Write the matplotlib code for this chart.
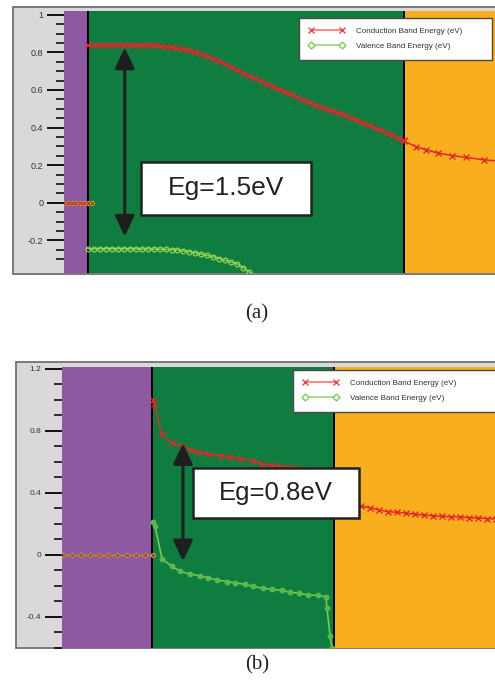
import matplotlib
matplotlib.use("Agg")
import matplotlib.pyplot as plt
import numpy as np
from matplotlib.lines import Line2D
from matplotlib.patches import Rectangle

plt.rcParams["axes.unicode_minus"] = False
plt.rcParams["font.family"] = ["Liberation Sans", "DejaVu Sans"]

# ---------------- panel (a): Eg = 1.5 eV ----------------
layers_a = [0, 24, 342, 440]          # purple | green | orange (position, a.u.)
yticks_a = [-0.2, 0, 0.2, 0.4, 0.6, 0.8, 1]

metal_x_a = [0, 4, 8, 12, 16, 20, 24, 28]
metal_e_a = [0, 0, 0, 0, 0, 0, 0, 0]

cb_x_a = np.arange(24, 343, 6)
cb_e_a = [0.840, 0.840, 0.840, 0.840, 0.840, 0.840, 0.839, 0.839, 0.839, 0.838,
          0.838, 0.837, 0.834, 0.830, 0.826, 0.822, 0.818, 0.810, 0.800, 0.790,
          0.779, 0.767, 0.754, 0.738, 0.722, 0.706, 0.690, 0.676, 0.662, 0.648,
          0.633, 0.618, 0.604, 0.590, 0.576, 0.562, 0.548, 0.534, 0.521, 0.510,
          0.498, 0.487, 0.476, 0.464, 0.451, 0.438, 0.425, 0.412, 0.400, 0.387,
          0.373, 0.360, 0.346, 0.332]
cb2_x_a = [342, 354, 364, 376, 390, 404, 422, 436]
cb2_e_a = [0.326, 0.298, 0.281, 0.264, 0.251, 0.241, 0.228, 0.222]

vb_x_a = np.arange(24, 211, 6)
vb_e_a = [-0.245, -0.245, -0.245, -0.245, -0.245, -0.245, -0.245, -0.245,
          -0.246, -0.246, -0.246, -0.247, -0.247, -0.248, -0.250, -0.252,
          -0.256, -0.261, -0.267, -0.273, -0.280, -0.288, -0.297, -0.306,
          -0.316, -0.325, -0.345, -0.368, -0.390, -0.415, -0.440, -0.465]

# ---------------- panel (b): Eg = 0.8 eV ----------------
layers_b = [0, 90, 272, 440]
yticks_b = [-0.4, 0, 0.4, 0.8, 1.2]

metal_x_b = [1, 10, 19, 28, 37, 46, 55, 65, 74, 83, 91]
metal_e_b = [0, 0, 0, 0, 0, 0, 0, 0, 0, 0, 0]

cb_x_b = [91, 92, 100, 110, 120, 129, 137, 146, 158, 168, 178, 191, 200, 209,
          218, 227, 236, 245, 254, 263, 266]
cb_e_b = [1.00, 0.975, 0.778, 0.722, 0.702, 0.680, 0.661, 0.651, 0.640, 0.634,
          0.620, 0.606, 0.586, 0.578, 0.572, 0.566, 0.560, 0.554, 0.548, 0.540,
          0.530]
cb2_x_b = [272, 281, 290, 299, 308, 317, 326, 335, 344, 353, 362, 371, 380,
           389, 398, 407, 416, 425, 434]
cb2_e_b = [0.330, 0.325, 0.320, 0.314, 0.305, 0.290, 0.280, 0.275, 0.270,
           0.263, 0.257, 0.252, 0.249, 0.247, 0.244, 0.241, 0.238, 0.235, 0.232]

vb_x_b = [91, 93, 100, 110, 118, 128, 138, 146, 155, 165, 173, 183, 191, 201,
          210, 220, 228, 237, 246, 256, 264, 265, 268, 270]
vb_e_b = [0.215, 0.185, -0.025, -0.074, -0.105, -0.123, -0.135, -0.148, -0.160,
          -0.172, -0.180, -0.190, -0.203, -0.215, -0.222, -0.228, -0.240,
          -0.246, -0.258, -0.260, -0.270, -0.345, -0.520, -0.600]

PURPLE = "#8e58a2"
GREEN = "#0f7d3f"
ORANGE = "#f9ae1d"
RED = "#e5262b"
LGREEN = "#7dcd4f"


def draw_panel(fig, rect, box, layers, ylim, yticks, minor_step,
               metal, cb, cb2, vb, vb_filled, tick_fs):
    fig.add_artist(Rectangle(box[:2], box[2], box[3], transform=fig.transFigure,
                             fc="#d9d9d9", ec="#707070", lw=1.3, zorder=0))
    ax = fig.add_axes(rect)
    ax.patch.set_visible(False)
    ax.set_xlim(0, 433)
    ax.set_ylim(*ylim)
    for lo, hi, c in zip(layers[:-1], layers[1:], [PURPLE, GREEN, ORANGE]):
        ax.axvspan(lo, hi, color=c, lw=0, zorder=1)
    for edge in layers[1:3]:
        ax.axvline(edge, color="black", lw=1.4, zorder=2)

    # metal contact: both bands sit at 0
    ax.plot(*metal, color=LGREEN, lw=1, marker="o", ms=3, mfc="none",
            mec=LGREEN, mew=0.8, zorder=3)
    ax.plot(*metal, color=RED, lw=0.8, marker="x", ms=3.5, mew=0.8,
            ls=":", zorder=3)
    ax.plot(*cb, color=RED, lw=1.1, marker="x", ms=4, mew=0.9, zorder=3)
    ax.plot(*cb2, color=RED, lw=1.1, marker="x", ms=4.5, mew=1.0, zorder=3)
    if vb_filled:
        ax.plot(*vb, color=LGREEN, lw=1.1, marker="o", ms=3.2, mfc="#5cb84e",
                mec="#5cb84e", zorder=3)
    else:
        ax.plot(*vb, color=LGREEN, lw=1.1, marker="o", ms=3.5, mfc="none",
                mec="#a0dc5a", mew=0.8, zorder=3)

    ax.set_xticks([])
    ax.set_yticks(yticks)
    ax.set_yticklabels([f"{v:g}" for v in yticks], fontsize=tick_fs,
                       color="#333333")
    ax.set_yticks(np.arange(yticks[0] - minor_step * 2, ylim[1], minor_step),
                  minor=True)
    ax.tick_params(axis="y", which="major", length=12, width=1.3, pad=3)
    ax.tick_params(axis="y", which="minor", length=6, width=1.1)
    for s in ax.spines.values():
        s.set_visible(False)
    return ax


def add_legend(ax, anchor):
    handles = [
        Line2D([], [], color="#f27777", lw=1.2, marker="x", ms=5, mew=1,
               mec="#e84545"),
        Line2D([], [], color="#9dd884", lw=1.2, marker="D", ms=3.5, mfc="white",
               mec="#7dcd4f", mew=1),
    ]
    leg = ax.legend(handles, ["Conduction Band Energy (eV)",
                              "Valence Band Energy (eV)"],
                    loc="upper left", bbox_to_anchor=anchor,
                    bbox_transform=ax.figure.transFigure, mode="expand",
                    fontsize=5.8, handlelength=4.4, handletextpad=1.5,
                    labelspacing=0.9, borderpad=1.2, borderaxespad=0,
                    numpoints=2, fancybox=False, framealpha=1)
    leg.get_frame().set_edgecolor("#4a4a4a")
    leg.get_frame().set_linewidth(1.0)
    for t in leg.get_texts():
        t.set_color("#333333")
    leg.set_zorder(10)


def add_eg(fig, ax, box, label, fs, arrow_x, y_top, y_bot):
    fig.add_artist(Rectangle(box[:2], box[2], box[3], transform=fig.transFigure,
                             fc="white", ec="#222222", lw=1.8, zorder=5))
    fig.text(box[0] + box[2] / 2, box[1] + box[3] / 2, label, fontsize=fs,
             ha="center", va="center", color="#222222", zorder=6)
    ax.annotate("", xy=(arrow_x, y_top), xytext=(arrow_x, y_bot),
                arrowprops=dict(arrowstyle="<|-|>,head_length=0.55,head_width=0.26",
                                color="#1e1e1e", lw=2.2, mutation_scale=23,
                                shrinkA=0, shrinkB=0),
                zorder=6)


W, H = 495, 682
fig = plt.figure(figsize=(W / 100, H / 100), dpi=100)

ax_a = draw_panel(fig, [64 / W, 1 - 273 / H, 1 - 64 / W, 262 / H],
                  (13 / W, 1 - 274 / H, 1.0, 267 / H),
                  layers_a, (-0.374, 1.02), yticks_a, 0.05,
                  (metal_x_a, metal_e_a), (cb_x_a, cb_e_a), (cb2_x_a, cb2_e_a),
                  (vb_x_a, vb_e_a), False, 6.5)
add_legend(ax_a, (299 / W, 1 - 62 / H, 193 / W, 44 / H))
add_eg(fig, ax_a, (141 / W, 1 - 215 / H, 170 / W, 53 / H), "Eg=1.5eV", 19,
       61, 0.825, -0.18)

ax_b = draw_panel(fig, [62 / W, 1 - 648 / H, 1 - 62 / W, 281 / H],
                  (16 / W, 1 - 648 / H, 1.0, 286 / H),
                  layers_b, (-0.514, 1.212), yticks_b, 0.1,
                  (metal_x_b, metal_e_b), (cb_x_b, cb_e_b), (cb2_x_b, cb2_e_b),
                  (vb_x_b, vb_e_b), True, 6)
add_legend(ax_b, (293 / W, 1 - 417 / H, 210 / W, 47 / H))
add_eg(fig, ax_b, (193 / W, 1 - 518 / H, 166 / W, 50 / H), "Eg=0.8eV", 18.5,
       121, 0.72, -0.04)

fig.text(257 / W, 1 - 314 / H, "(a)", fontsize=15, family="Liberation Serif",
         ha="center", va="center", color="#222222")
fig.text(257 / W, 1 - 665 / H, "(b)", fontsize=15, family="Liberation Serif",
         ha="center", va="center", color="#222222")

fig.savefig("out.png", dpi=100)
